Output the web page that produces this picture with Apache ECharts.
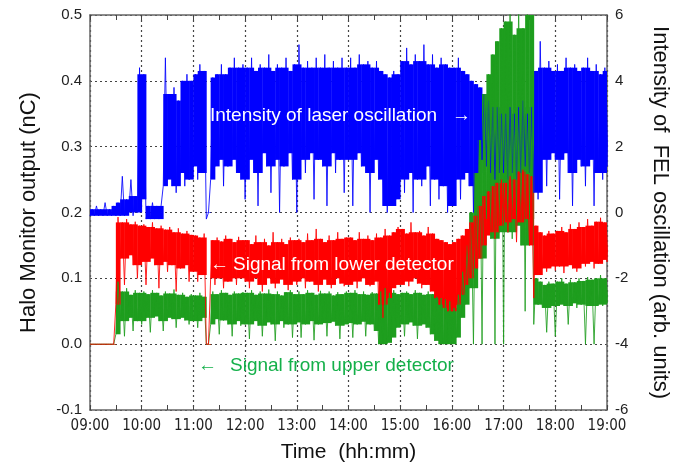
<!DOCTYPE html>
<html>
<head>
<meta charset="utf-8">
<script src="https://cdn.jsdelivr.net/npm/echarts@6/dist/echarts.min.js"></script>
<style>
html, body { margin: 0; padding: 0; background: #fff; }
#chart { width: 680px; height: 468px; }
</style>
</head>
<body>
<div id="chart"></div>
<script>
// readings every 5 minutes from 09:00 to 19:00 (121 samples)
// each sample: lowest and highest excursion of the noisy trace
const startHour = 9;
const stepMin = 5;

// laser oscillation intensity, arb. units (right axis)
const blueHi = [
  0.1, 0.2, 0.1, 0.3, 0.1, 0.2, 0.3, 1.1, 0.4, 1.0, 0.5, 4.4,   // 09
  4.2, 0.2, 0.3, 0.2, 0.2, 4.7, 3.6, 3.8, 3.4, 4.0, 4.2, 4.0,   // 10
  4.2, 4.5, 4.3, 0.0, 4.1, 4.2, 4.5, 4.2, 4.4, 4.7, 4.4, 4.5,   // 11
  4.4, 4.7, 4.3, 4.5, 4.4, 4.8, 4.3, 4.5, 4.4, 4.7, 4.3, 4.5,   // 12
  5.1, 4.4, 4.6, 4.4, 4.7, 4.4, 4.8, 4.4, 4.6, 4.4, 4.7, 4.4,   // 13
  4.7, 4.4, 4.8, 4.5, 4.6, 4.4, 4.6, 4.3, 4.2, 4.1, 4.3, 4.2,   // 14
  4.6, 5.0, 4.5, 4.8, 4.6, 5.1, 4.5, 4.8, 4.4, 4.7, 4.5, 4.4,   // 15
  4.4, 4.7, 4.3, 4.2, 4.0, 3.9, 3.8, 3.6, 3.4, 3.2, 3.2, 3.0,   // 16
  3.0, 3.2, 3.0, 3.2, 3.4, 3.0, 3.2, 4.3, 5.2, 4.4, 4.6, 4.3,   // 17
  4.5, 4.3, 4.7, 4.4, 4.5, 4.3, 4.4, 4.7, 4.3, 4.5, 4.2, 4.4,   // 18
  4.3
];
const blueLo = [
  -0.1, -0.1, -0.1, -0.1, -0.1, -0.1, -0.1, -0.1, -0.1, 0.0, -0.1, 0.0,
  0.4, -0.2, -0.2, -0.2, -0.2, 0.8, 1.0, 0.8, 0.6, 1.2, 0.8, 1.0,
  1.4, 1.0, 1.2, -0.2, 1.0, 1.4, 1.6, 0.8, 1.4, 1.6, 1.2, 1.0,
  0.4, 1.6, 1.2, 0.2, 1.8, 1.4, 0.6, 1.6, 0.0, 1.4, 1.8, 1.0,
  0.0, 1.6, 1.2, 1.8, 0.4, 1.6, 1.4, 0.2, 1.8, 1.2, 1.6, 0.6,
  1.6, 0.2, 1.8, 1.4, 1.2, 0.0, 1.6, 1.0, 0.2, 0.0, 0.2, 0.4,
  1.0, 0.6, 1.2, 0.0, 1.0, 0.8, 1.4, 0.2, 1.0, 0.4, 0.8, 0.0,
  0.2, 1.0, 0.4, 1.2, 0.8, 0.0, 1.2, 1.6, 1.4, 1.2, 1.0, 1.2,
  1.2, 1.0, 1.2, 1.0, 1.2, 1.4, 1.2, 0.6, 0.4, 1.6, 0.8, 1.8,
  1.6, 0.4, 1.8, 1.2, 0.2, 1.6, 1.4, 0.8, 1.6, 0.2, 1.2, 1.0,
  1.4
];

// lower detector, nC (left axis)
const redHi = [
  0, 0, 0, 0, 0, 0, 0.193, 0.185, 0.19, 0.182, 0.186, 0.18,
  0.182, 0.178, 0.185, 0.176, 0.18, 0.174, 0.178, 0.17, 0.176, 0.168, 0.172, 0.166,
  0.165, 0.162, 0.168, 0.0, 0.158, 0.162, 0.156, 0.165, 0.16, 0.155, 0.163, 0.158,
  0.158, 0.152, 0.165, 0.155, 0.16, 0.15, 0.17, 0.155, 0.16, 0.152, 0.162, 0.158,
  0.16, 0.155, 0.168, 0.158, 0.175, 0.16, 0.155, 0.165, 0.158, 0.17, 0.16, 0.162,
  0.162, 0.158, 0.17, 0.16, 0.165, 0.158, 0.168, 0.162, 0.175, 0.165, 0.17, 0.178,
  0.175, 0.168, 0.185, 0.17, 0.172, 0.165, 0.178, 0.168, 0.16, 0.158, 0.155, 0.152,
  0.155, 0.16, 0.165, 0.175, 0.185, 0.195, 0.21, 0.225, 0.232, 0.24, 0.245, 0.25,
  0.245, 0.255, 0.25, 0.262, 0.265, 0.258, 0.255, 0.18, 0.17, 0.165, 0.172, 0.168,
  0.172, 0.178, 0.17, 0.182, 0.175, 0.185, 0.178, 0.19, 0.18, 0.186, 0.192, 0.185,
  0.198
];
const redLo = [
  0, 0, 0, 0, 0, 0, 0.06, 0.13, 0.09, 0.135, 0.12, 0.10,
  0.125, 0.09, 0.13, 0.12, 0.085, 0.125, 0.11, 0.12, 0.08, 0.115, 0.12, 0.095,
  0.11, 0.095, 0.105, 0.0, 0.10, 0.09, 0.1, 0.085, 0.095, 0.1, 0.09, 0.1,
  0.095, 0.085, 0.1, 0.09, 0.08, 0.1, 0.092, 0.085, 0.098, 0.09, 0.082, 0.095,
  0.09, 0.1, 0.085, 0.095, 0.09, 0.08, 0.098, 0.09, 0.085, 0.1, 0.092, 0.088,
  0.09, 0.095, 0.085, 0.1, 0.09, 0.088, 0.095, 0.06, 0.04, 0.07, 0.085, 0.09,
  0.09, 0.095, 0.088, 0.1, 0.092, 0.085, 0.09, 0.08, 0.07, 0.06, 0.055, 0.05,
  0.05, 0.06, 0.075, 0.09, 0.1, 0.115, 0.13, 0.15, 0.165, 0.17, 0.16, 0.18,
  0.185, 0.17, 0.19, 0.155, 0.185, 0.19, 0.15, 0.07, 0.105, 0.115, 0.11, 0.118,
  0.112, 0.118, 0.108, 0.12, 0.115, 0.11, 0.122, 0.118, 0.125, 0.115, 0.122, 0.128,
  0.125
];

// upper detector, nC (left axis)
const greenHi = [
  0, 0, 0, 0, 0, 0, 0.095, 0.08, 0.085, 0.075, 0.082, 0.078,
  0.08, 0.076, 0.082, 0.078, 0.074, 0.08, 0.077, 0.083, 0.075, 0.078, 0.072, 0.076,
  0.074, 0.078, 0.072, 0.0, 0.08, 0.076, 0.082, 0.078, 0.075, 0.08, 0.077, 0.079,
  0.078, 0.082, 0.075, 0.08, 0.077, 0.083, 0.076, 0.08, 0.074, 0.079, 0.082, 0.076,
  0.08, 0.076, 0.082, 0.078, 0.075, 0.081, 0.077, 0.08, 0.074, 0.079, 0.076, 0.08,
  0.078, 0.082, 0.076, 0.08, 0.075, 0.079, 0.077, 0.08, 0.085, 0.078, 0.082, 0.076,
  0.078, 0.08, 0.076, 0.082, 0.078, 0.075, 0.08, 0.076, 0.072, 0.07, 0.068, 0.065,
  0.055, 0.075, 0.11, 0.15, 0.2, 0.26, 0.31, 0.38, 0.41, 0.44, 0.46, 0.48,
  0.49, 0.52, 0.47, 0.52, 0.48, 0.52, 0.5, 0.1, 0.095, 0.09, 0.095, 0.092,
  0.095, 0.1, 0.092, 0.098, 0.094, 0.1, 0.096, 0.102, 0.098, 0.1, 0.105, 0.1,
  0.108
];
const greenLo = [
  0, 0, 0, 0, 0, 0, 0.015, 0.035, 0.012, 0.04, 0.02, 0.035,
  0.03, 0.04, 0.018, 0.042, 0.035, 0.02, 0.04, 0.038, 0.025, 0.04, 0.036, 0.03,
  0.035, 0.025, 0.04, 0.0, 0.03, 0.038, 0.015, 0.036, 0.03, 0.012, 0.035, 0.028,
  0.03, 0.008, 0.035, 0.028, 0.012, 0.033, 0.03, 0.005, 0.035, 0.025, 0.03, 0.01,
  0.033, 0.01, 0.03, 0.035, 0.006, 0.03, 0.032, 0.012, 0.034, 0.028, 0.008, 0.03,
  0.032, 0.01, 0.03, 0.034, 0.012, 0.03, 0.02, 0.0, 0.0, 0.002, 0.01, 0.025,
  0.03, 0.012, 0.033, 0.028, 0.008, 0.03, 0.025, 0.015, 0.005, 0.0, 0.0, 0.0,
  0.0, 0.01, 0.04, 0.06, 0.085, 0.0, 0.13, 0.0, 0.19, 0.16, 0.0, 0.17,
  0.0, 0.17, 0.16, 0.18, 0.15, 0.05, 0.19, 0.03, 0.06, 0.055, 0.018, 0.058,
  0.012, 0.06, 0.058, 0.03, 0.062, 0.055, 0.06, 0.0, 0.058, 0.0, 0.06, 0.058,
  0.062
];

function sampleTime(i) {
    return startHour + i * stepMin / 60;
}

// the spikes: zigzag between the low and high reading of each sample
function zigzag(lo, hi) {
    const pts = [];
    for (let i = 0; i < lo.length; i++) {
        pts.push([sampleTime(i), lo[i]]);
        pts.push([sampleTime(i) + stepMin / 120, hi[i]]);
    }
    return pts;
}

// the dense core of each sample: its readings without one-sample spikes
// rows: [t0, t1, low, high]
function coreBand(lo, hi) {
    const n = lo.length;
    const rows = [];
    for (let i = 0; i < n; i++) {
        const p = Math.max(i - 1, 0), q = Math.min(i + 1, n - 1);
        const top = Math.min(hi[i], Math.max(hi[p], hi[q]));
        const bottom = Math.min(Math.max(lo[i], Math.min(lo[p], lo[q])), top);
        rows.push([sampleTime(i), sampleTime(i + 1), bottom, top]);
    }
    return rows;
}

const chart = echarts.init(document.getElementById('chart'));

const gridLine = { show: true, lineStyle: { color: '#444', width: 1.2, type: [2, 3] } };
const frame = { show: true, onZero: false, lineStyle: { color: '#666', width: 1.5 } };
const sans = '"Liberation Sans", Arial, sans-serif';
const narrow = '"Liberation Sans Narrow", "DejaVu Sans Condensed", sans-serif';

function trace(lo, hi, color, yIdx) {
    return [
        {
            type: 'custom', yAxisIndex: yIdx, silent: true, clip: true,
            data: coreBand(lo, hi),
            encode: { x: [0, 1], y: [2, 3] },
            renderItem: function (params, api) {
                const a = api.coord([api.value(0), api.value(3)]);
                const b = api.coord([api.value(1), api.value(2)]);
                return {
                    type: 'rect',
                    shape: { x: a[0], y: a[1], width: b[0] - a[0] + 0.4, height: Math.max(b[1] - a[1], 0.5) },
                    style: { fill: color }
                };
            }
        },
        {
            type: 'line', yAxisIndex: yIdx, showSymbol: false, symbol: 'none',
            silent: true, clip: true, emphasis: { disabled: true },
            data: zigzag(lo, hi),
            lineStyle: { color: color, width: 1, opacity: 0.85 }
        }
    ];
}

function note(x, y, text, color) {
    return {
        type: 'text', x: x, y: y, z: 100, silent: true,
        style: { text: text, fill: color, font: '19px ' + sans, textVerticalAlign: 'middle' }
    };
}

chart.setOption({
    animation: false,
    grid: { left: 90, right: 73, top: 15, bottom: 58 },
    xAxis: [
        {
            type: 'value', position: 'bottom', min: 9, max: 19, interval: 1,
            axisLine: frame,
            axisTick: { show: true, inside: true, length: 5, lineStyle: { color: '#444' } },
            minorTick: { show: true, splitNumber: 2, length: 5, lineStyle: { color: '#444' } },
            splitLine: gridLine,
            axisLabel: {
                margin: 9, fontSize: 15, fontFamily: narrow, color: '#222',
                formatter: (v) => (v < 10 ? '0' : '') + v + ':00'
            },
            name: 'Time  (hh:mm)', nameLocation: 'middle', nameGap: 32,
            nameTextStyle: { fontSize: 21, fontFamily: sans, color: '#111' }
        },
        {
            type: 'value', position: 'top', min: 9, max: 19, interval: 1,
            axisLine: frame,
            axisTick: { show: true, inside: true, length: 5, lineStyle: { color: '#444' } },
            minorTick: { show: true, splitNumber: 2, length: 5, lineStyle: { color: '#444' } },
            axisLabel: { show: false },
            splitLine: { show: false }
        }
    ],
    yAxis: [
        {
            type: 'value', position: 'left', min: -0.1, max: 0.5, interval: 0.1,
            axisLine: frame,
            axisTick: { show: false },
            splitLine: gridLine,
            axisLabel: {
                margin: 8, fontSize: 15, fontFamily: sans, color: '#222',
                formatter: (v) => v.toFixed(1)
            },
            name: 'Halo Monitor output (nC)', nameLocation: 'middle', nameGap: 50, nameRotate: 90,
            nameTextStyle: { fontSize: 22, fontFamily: sans, color: '#111' }
        },
        {
            type: 'value', position: 'right', min: -6, max: 6, interval: 2,
            axisLine: frame,
            axisTick: { show: false },
            splitLine: { show: false },
            axisLabel: { margin: 8, fontSize: 15, fontFamily: sans, color: '#222' },
            name: 'Intensity of  FEL oscillation (arb. units)', nameLocation: 'middle',
            nameGap: 42, nameRotate: -90,
            nameTextStyle: { fontSize: 22, fontFamily: sans, color: '#111' }
        }
    ],
    series: [].concat(
        trace(blueLo, blueHi, '#0000ff', 1),
        trace(greenLo, greenHi, '#1e9e1e', 0),
        trace(redLo, redHi, '#ff0000', 0)
    ),
    graphic: [
        note(210, 116, 'Intensity of laser oscillation', '#fff'),
        note(452, 116, '→', '#fff'),
        note(210, 265, '←', '#fff'),
        note(233, 265, 'Signal from lower detector', '#fff'),
        note(198, 366, '←', '#14b04a'),
        note(230, 366, 'Signal from upper detector', '#14b04a')
    ]
});
</script>
</body>
</html>
